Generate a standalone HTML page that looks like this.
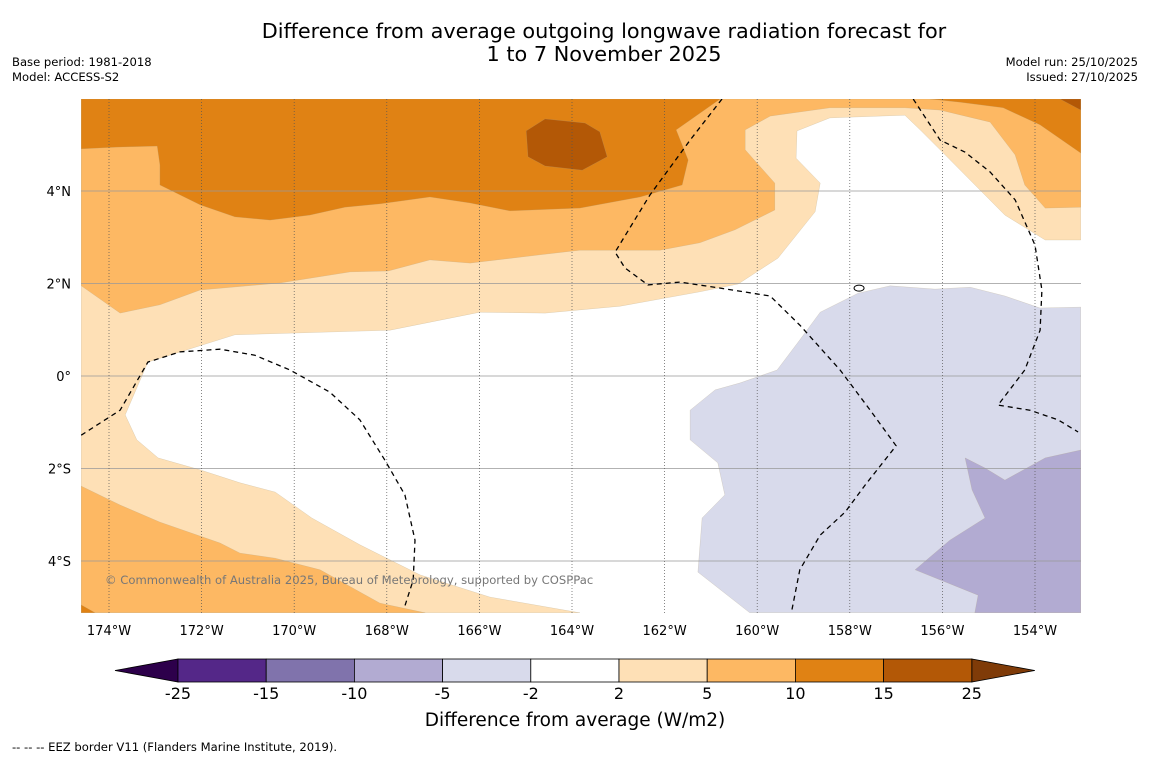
<!DOCTYPE html>
<html><head><meta charset="utf-8"><style>
html,body{margin:0;padding:0;background:#fff;width:1150px;height:758px;overflow:hidden}
svg text{font-family:"DejaVu Sans","Liberation Sans",sans-serif}
</style></head><body>
<svg id="chart" width="1150" height="758" xmlns="http://www.w3.org/2000/svg">
<text x="604" y="38" font-size="20.8" text-anchor="middle">Difference from average outgoing longwave radiation forecast for</text>
<text x="604" y="61" font-size="20.8" text-anchor="middle">1 to 7 November 2025</text>
<text x="12" y="66" font-size="11.6">Base period: 1981-2018</text>
<text x="12" y="81" font-size="11.6">Model: ACCESS-S2</text>
<text x="1138" y="66" font-size="11.6" text-anchor="end">Model run: 25/10/2025</text>
<text x="1138" y="81" font-size="11.6" text-anchor="end">Issued: 27/10/2025</text>
<defs><clipPath id="plotclip"><rect x="81" y="99" width="1000" height="514"/></clipPath></defs>
<g id="plot" clip-path="url(#plotclip)"></g>
<g id="axes"></g>
<g id="cbar"></g>
<text x="575" y="726" font-size="18.5" text-anchor="middle">Difference from average (W/m2)</text>
<text x="12" y="751" font-size="11.6">--  --  -- EEZ border V11 (Flanders Marine Institute, 2019).</text>
</svg>
<script>
const lonTicks=[-174,-172,-170,-168,-166,-164,-162,-160,-158,-156,-154];
const latTicks=[4,2,0,-2,-4];
const cbarLevels=[-25,-15,-10,-5,-2,2,5,10,15,25];
const cbarColors=["#542788","#8073ac","#b2abd2","#d8daeb","#ffffff","#fee0b6","#fdb863","#e08214","#b35806"];
const cbarUnder="#2d004b", cbarOver="#7f3b08";
// contour regions [lon,lat]
const pale25=[[-174.6,5.99],[-153.01,5.99],[-153.01,2.94],[-153.78,2.94],[-154.65,3.48],[-156.05,4.89],[-156.48,5.32],[-156.81,5.64],[-158.43,5.58],[-159.14,5.30],[-159.16,4.71],[-158.64,4.17],[-158.75,3.55],[-159.55,2.55],[-160.41,1.99],[-161.24,1.82],[-162.96,1.51],[-164.58,1.36],[-165.99,1.38],[-167.93,0.99],[-171.28,0.89],[-173.16,0.30],[-173.65,-0.84],[-173.40,-1.38],[-172.94,-1.77],[-172.03,-2.03],[-171.17,-2.31],[-170.41,-2.51],[-169.62,-3.07],[-168.58,-3.65],[-167.28,-4.30],[-165.77,-4.78],[-163.83,-5.12],[-174.6,-5.12]];
const top510=[[-174.6,5.99],[-153.01,5.99],[-153.01,3.65],[-153.78,3.63],[-154.22,4.13],[-154.43,4.78],[-154.97,5.49],[-156.05,5.75],[-156.81,5.80],[-158.43,5.80],[-159.72,5.62],[-160.26,5.32],[-160.26,4.89],[-159.62,4.17],[-159.62,3.59],[-160.48,3.16],[-161.24,2.88],[-162.10,2.72],[-163.83,2.72],[-164.69,2.62],[-166.20,2.44],[-167.07,2.51],[-167.97,2.27],[-168.79,2.25],[-170.31,2.01],[-172.03,1.86],[-172.90,1.54],[-173.76,1.36],[-174.6,1.95]];
const top1015a=[[-174.6,5.99],[-160.80,5.99],[-161.75,5.32],[-161.49,4.67],[-161.62,4.13],[-162.53,3.87],[-163.83,3.63],[-165.34,3.57],[-166.20,3.74],[-167.07,3.87],[-168.15,3.72],[-168.90,3.65],[-169.66,3.48],[-170.52,3.37],[-171.28,3.44],[-172.03,3.70],[-172.90,4.13],[-172.90,4.56],[-172.96,4.97],[-173.81,4.95],[-174.6,4.91]];
const top1015b=[[-156.27,5.99],[-153.01,5.99],[-153.01,4.82],[-153.89,5.43],[-154.69,5.80],[-155.62,5.92]];
const top1525a=[[-153.46,5.99],[-153.01,5.99],[-153.01,5.75]];
const top1525b=[[-164.99,5.30],[-164.58,5.56],[-163.72,5.47],[-163.40,5.28],[-163.24,4.74],[-163.78,4.45],[-164.58,4.54],[-164.95,4.74]];
const bot510=[[-174.6,-2.38],[-173.76,-2.79],[-172.90,-3.16],[-171.60,-3.61],[-171.17,-3.83],[-170.41,-3.94],[-169.44,-4.19],[-168.58,-4.67],[-168.15,-4.91],[-167.17,-5.12],[-174.6,-5.12]];
const bot1015=[[-174.6,-4.95],[-174.3,-5.12],[-174.6,-5.12]];
const neg25=[[-161.45,-0.74],[-160.91,-0.30],[-160.37,-0.15],[-159.57,0.13],[-159.08,0.78],[-158.64,1.38],[-157.82,1.79],[-157.13,1.95],[-156.16,1.88],[-155.40,1.92],[-154.65,1.73],[-153.89,1.47],[-153.01,1.49],[-153.01,-5.12],[-160.16,-5.12],[-161.28,-4.24],[-161.19,-3.07],[-160.70,-2.57],[-160.85,-1.88],[-161.45,-1.38]];
const neg510=[[-155.51,-1.77],[-155.08,-1.99],[-154.65,-2.25],[-153.78,-1.77],[-153.01,-1.60],[-153.01,-5.12],[-155.30,-5.12],[-155.23,-4.74],[-156.59,-4.19],[-155.84,-3.55],[-155.08,-3.07],[-155.36,-2.46]];
const eezA=[[-174.6,-1.28],[-173.76,-0.74],[-173.16,0.30],[-172.47,0.52],[-171.60,0.58],[-170.85,0.45],[-170.09,0.13],[-169.23,-0.35],[-168.58,-0.95],[-168.04,-1.82],[-167.61,-2.57],[-167.39,-3.55],[-167.43,-4.41],[-167.61,-4.97]];
const eezB=[[-160.76,5.99],[-161.45,5.10],[-162.32,3.91],[-163.07,2.68],[-162.86,2.34],[-162.36,1.97],[-161.67,2.03],[-160.80,1.90],[-159.72,1.73],[-159.08,1.10],[-158.21,0.13],[-157.56,-0.74],[-157.00,-1.51],[-157.67,-2.36],[-158.10,-2.94],[-158.64,-3.44],[-159.08,-4.19],[-159.25,-5.06]];
const eezC=[[-156.63,5.99],[-156.05,5.10],[-155.51,4.84],[-154.97,4.41],[-154.43,3.81],[-154.00,2.83],[-153.85,1.86],[-153.89,0.99],[-154.22,0.13],[-154.80,-0.63],[-154.11,-0.74],[-153.50,-0.95],[-153.07,-1.21]];

const NS="http://www.w3.org/2000/svg";
const X0=81,X1=1081,Y0=99,Y1=613;
function xScale(lon){return 109+(lon+174)*46.3;}
function yScale(lat){return 376-lat*46.25;}
function mk(tag,attrs,parent){const e=document.createElementNS(NS,tag);for(const k in attrs)e.setAttribute(k,attrs[k]);parent.appendChild(e);return e;}
function pts(a){return a.map(p=>xScale(p[0]).toFixed(1)+","+yScale(p[1]).toFixed(1)).join(" ");}
const plot=document.getElementById('plot'),axes=document.getElementById('axes'),cbar=document.getElementById('cbar');
let bg=mk('rect',{x:X0,y:Y0,width:X1-X0,height:Y1-Y0,fill:'#ffffff'},plot);


const regions=[["contour-2-to-5",pale25,cbarColors[5]],["contour-5-to-10-north",top510,cbarColors[6]],["contour-10-to-15-northwest",top1015a,cbarColors[7]],["contour-10-to-15-northeast",top1015b,cbarColors[7]],["contour-15-to-25-corner",top1525a,cbarColors[8]],["contour-15-to-25-blob",top1525b,cbarColors[8]],["contour-5-to-10-south",bot510,cbarColors[6]],["contour-10-to-15-south",bot1015,cbarColors[7]],["contour-minus5-to-minus2",neg25,cbarColors[3]],["contour-minus10-to-minus5",neg510,cbarColors[2]]];
regions.forEach(r=>{const p=mk('polygon',{points:pts(r[1]),fill:r[2],stroke:'#b0a080','stroke-width':0.4,'stroke-opacity':0.5},plot);

});
latTicks.forEach(t=>{const l=mk('line',{x1:X0,x2:X1,y1:yScale(t),y2:yScale(t),stroke:'#999',"stroke-width":0.7},plot);

});
lonTicks.forEach(t=>{const l=mk('line',{x1:xScale(t),x2:xScale(t),y1:Y0,y2:Y1,stroke:'#555',"stroke-width":0.7,"stroke-dasharray":"1,2"},plot);

});
[["eez-border-west",eezA],["eez-border-central",eezB],["eez-border-east",eezC]].forEach(r=>{const p=mk('polyline',{points:pts(r[1]),fill:'none',stroke:'#000',"stroke-width":1.3,"stroke-dasharray":"5,4"},plot);

});
const isl=mk('ellipse',{cx:xScale(-157.8),cy:yScale(1.9),rx:5,ry:3,fill:'#fff',stroke:'#000','stroke-width':1},plot);


const cp=mk('text',{x:105,y:584,'font-size':11.6,fill:'#777'},plot);cp.textContent="© Commonwealth of Australia 2025, Bureau of Meteorology, supported by COSPPac";


lonTicks.forEach(t=>{const e=mk('text',{x:xScale(t),y:635,'font-size':13,'text-anchor':'middle'},axes);e.textContent=Math.abs(t)+"°W";

});
latTicks.forEach(t=>{const e=mk('text',{x:71,y:yScale(t)+5,'font-size':13,'text-anchor':'end'},axes);e.textContent=t===0?"0°":Math.abs(t)+"°"+(t>0?"N":"S");

});
// colorbar
const CB0=178,CBW=88.2,CBY=659,CBH=23;
const ut=mk('polygon',{points:`${CB0},${CBY} ${CB0},${CBY+CBH} 115,${CBY+CBH/2}`,fill:cbarUnder,stroke:'#000','stroke-width':0.8},cbar);


const endX=CB0+CBW*cbarColors.length;
const ot=mk('polygon',{points:`${endX},${CBY} ${endX},${CBY+CBH} ${endX+63},${CBY+CBH/2}`,fill:cbarOver,stroke:'#000','stroke-width':0.8},cbar);


cbarColors.forEach((c,i)=>{const r=mk('rect',{x:CB0+i*CBW,y:CBY,width:CBW,height:CBH,fill:c,stroke:'#000','stroke-width':0.8},cbar);

});
cbarLevels.forEach((v,i)=>{const e=mk('text',{x:CB0+i*CBW,y:699,'font-size':16,'text-anchor':'middle'},cbar);e.textContent=v;

});
</script>
</body></html>
